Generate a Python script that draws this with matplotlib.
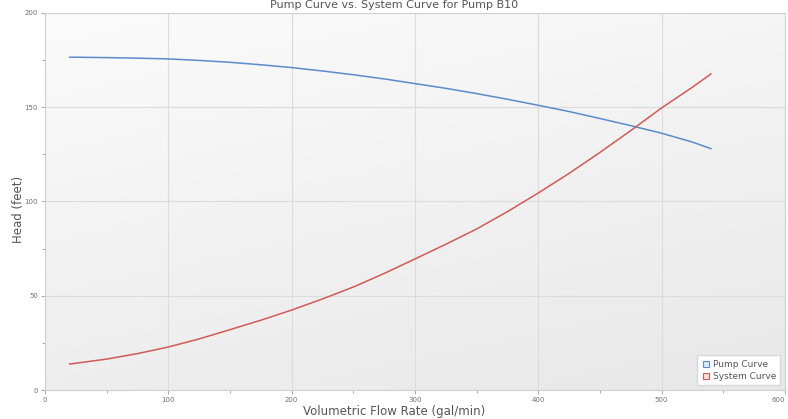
import matplotlib.pyplot as plt
import numpy as np
from matplotlib.lines import Line2D
from matplotlib.colors import LinearSegmentedColormap

flow = [20, 25, 50, 75, 100, 125, 150, 175, 200, 225, 250, 275, 300,
        325, 350, 375, 400, 425, 450, 475, 500, 525, 540]
pump_head = [176.5, 176.5, 176.3, 176.0, 175.6, 174.8, 173.8, 172.5, 171.0, 169.2, 167.2, 165.0, 162.5,
             160.0, 157.2, 154.2, 151.0, 147.7, 144.0, 140.2, 136.2, 131.5, 128.0]
system_head = [13.8, 14.2, 16.4, 19.3, 22.8, 27.1, 32.0, 37.0, 42.4, 48.3, 54.6, 61.8, 69.5,
               77.3, 85.4, 94.6, 104.5, 114.9, 126.0, 137.6, 149.6, 160.6, 167.6]

blue = "#5a8ccc"
red = "#d25a55"
gray = "#707070"

fig = plt.figure(figsize=(7.88, 4.19), dpi=100)
ax = fig.add_axes([0.0571, 0.0692, 0.939, 0.9])

# soft diagonal gradient background like the original
yy, xx = np.mgrid[0:1:200j, 0:1:200j]
grad = 0.7 * yy + 0.3 * xx
cmap = LinearSegmentedColormap.from_list("bg", ["#fbfbfb", "#e8e8e8"])
ax.imshow(grad, extent=[0, 600, 0, 200], aspect="auto", cmap=cmap, origin="upper", zorder=0)

ax.plot(flow, pump_head, color=blue, lw=1.1, zorder=3)
ax.plot(flow, system_head, color=red, lw=1.1, zorder=3)

ax.set_xlim(0, 600)
ax.set_ylim(0, 200)
ax.set_xticks(range(0, 601, 100))
ax.set_yticks(range(0, 201, 50))
ax.set_xticks(range(50, 600, 100), minor=True)
ax.set_yticks(range(25, 200, 50), minor=True)
ax.grid(True, which="major", color="#dcdcdc", lw=0.8, zorder=1)
ax.tick_params(labelsize=5, colors="#999999", labelcolor=gray, length=3, width=0.6, pad=2)
ax.tick_params(which="minor", length=2, width=0.6, colors="#999999")
ax.get_xticklabels()[-1].set_ha("right")
for s in ax.spines.values():
    s.set_color("#d0d0d0")
    s.set_linewidth(0.8)

fig.text(0.5, 0.003, "Volumetric Flow Rate (gal/min)", fontsize=8.5, color="#555555", ha="center", va="bottom")
fig.text(0.023, 0.5, "Head (feet)", fontsize=8.5, color="#555555", ha="center", va="center", rotation=90)
fig.text(0.5, 0.999, "Pump Curve vs. System Curve for Pump B10", fontsize=8, color="#555555", ha="center", va="top")

handles = [
    Line2D([], [], ls="none", marker="s", ms=5, mfc="#dde8f6", mec=blue, mew=0.8),
    Line2D([], [], ls="none", marker="s", ms=5, mfc="#f6dddd", mec=red, mew=0.8),
]
leg = ax.legend(handles, ["Pump Curve", "System Curve"], loc="lower right", fontsize=6.5,
                handletextpad=0.2, borderpad=0.5, labelspacing=0.35, handlelength=1.0,
                fancybox=False, framealpha=1, edgecolor="#d8d8d8")
for t in leg.get_texts():
    t.set_color("#555555")

fig.savefig("out.png", dpi=100)
